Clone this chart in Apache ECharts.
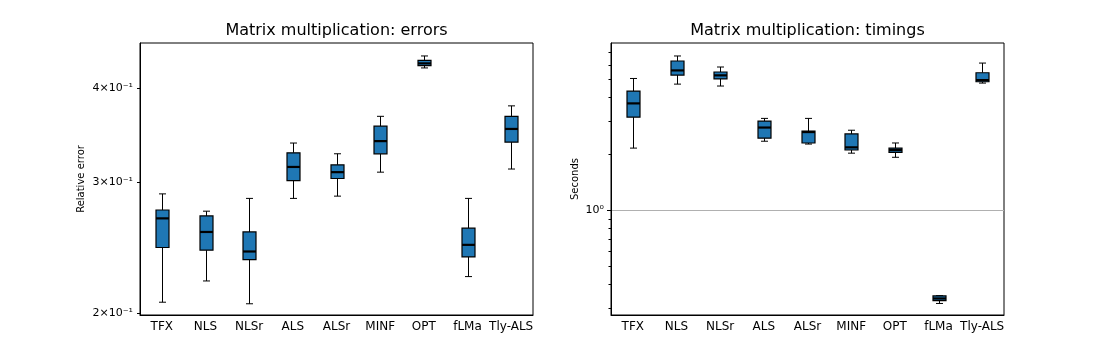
<!DOCTYPE html>
<html>
<head>
<meta charset="utf-8">
<script src="https://cdn.jsdelivr.net/npm/echarts@6/dist/echarts.min.js"></script>
<style>
html,body{margin:0;padding:0;background:#fff}
#main{width:1116px;height:360px}
</style>
</head>
<body>
<div id="main"></div>
<script>
var methods = ['TFX', 'NLS', 'NLSr', 'ALS', 'ALSr', 'MINF', 'OPT', 'fLMa', 'Tly-ALS'];

// relative error: whisker low, q1, median, q3, whisker high
var errLow  = [0.207, 0.221, 0.206, 0.285, 0.287, 0.309, 0.426, 0.224, 0.312];
var errQ1   = [0.245, 0.243, 0.236, 0.301, 0.303, 0.327, 0.429, 0.238, 0.339];
var errMed  = [0.268, 0.257, 0.242, 0.314, 0.309, 0.340, 0.432, 0.247, 0.353];
var errQ3   = [0.275, 0.270, 0.257, 0.328, 0.316, 0.356, 0.436, 0.260, 0.367];
var errHigh = [0.289, 0.274, 0.285, 0.338, 0.327, 0.367, 0.442, 0.285, 0.379];
var errTicks = [0.2, 0.3, 0.4];
var errTickLabels = ['2×10⁻¹', '3×10⁻¹', '4×10⁻¹'];

// timings in seconds
var timeLow  = [2.15, 4.73, 4.62, 2.34, 2.26, 2.02, 1.92, 0.317, 4.79];
var timeQ1   = [3.15, 5.29, 5.04, 2.43, 2.29, 2.10, 2.04, 0.328, 4.87];
var timeMed  = [3.73, 5.60, 5.27, 2.77, 2.62, 2.17, 2.10, 0.337, 4.97];
var timeQ3   = [4.34, 6.29, 5.49, 3.00, 2.65, 2.56, 2.15, 0.348, 5.44];
var timeHigh = [5.07, 6.69, 5.84, 3.10, 3.10, 2.68, 2.29, 0.349, 6.13];
var timeMajor = [1];
var timeMajorLabels = ['10⁰'];
var timeMinor = [0.3, 0.4, 0.5, 0.6, 0.7, 0.8, 0.9, 2, 3, 4, 5, 6, 7];

var FONT = 'DejaVu Sans';

function pickLabel(ticks, labels){
	return function(v){
		for(var i=0;i<ticks.length;i++){
			if(Math.abs(v - ticks[i]) < 1e-6*ticks[i] || Math.abs(v - Math.log10(ticks[i])) < 1e-6) return labels[i];
		}
		return '';
	};
}

/* one box: whiskers with short caps, filled box, thick median */
function boxItem(params, api){
	var i = api.value(0);
	var lo = api.coord([i, api.value(1)]);
	var q1 = api.coord([i, api.value(2)]);
	var md = api.coord([i, api.value(3)]);
	var q3 = api.coord([i, api.value(4)]);
	var hi = api.coord([i, api.value(5)]);
	var x = Math.round(lo[0]) + 0.5, hw = 6.5, cw = 3.5;
	var ln = {stroke:'#000', lineWidth:1};
	return {type:'group', children:[
		{type:'line', shape:{x1:x, y1:q1[1], x2:x, y2:lo[1]}, style:ln},
		{type:'line', shape:{x1:x, y1:q3[1], x2:x, y2:hi[1]}, style:ln},
		{type:'line', shape:{x1:x-cw, y1:lo[1], x2:x+cw, y2:lo[1]}, style:ln},
		{type:'line', shape:{x1:x-cw, y1:hi[1], x2:x+cw, y2:hi[1]}, style:ln},
		{type:'rect', shape:{x:x-hw, y:q3[1], width:2*hw, height:q1[1]-q3[1]}, style:{fill:'#1f77b4', stroke:'#000', lineWidth:1.2}},
		{type:'line', shape:{x1:x-hw, y1:md[1], x2:x+hw, y2:md[1]}, style:{stroke:'#000', lineWidth:2.2}}
	]};
}

function rows(lo, q1, md, q3, hi){
	return methods.map(function(m, i){ return [i, lo[i], q1[i], md[i], q3[i], hi[i]]; });
}

function catAxis(gi){
	return {
		type:'category', gridIndex:gi, data:methods, boundaryGap:true,
		axisLine:{lineStyle:{color:'#000', width:1}},
		axisTick:{alignWithLabel:true, length:4, lineStyle:{color:'#000'}},
		axisLabel:{fontSize:12, color:'#000', fontFamily:FONT, margin:6, interval:0},
		splitLine:{show:false}
	};
}

var titleStyle = {fontSize:16, fontWeight:'normal', color:'#000', fontFamily:FONT};

var chart = echarts.init(document.getElementById('main'));
chart.setOption({
	animation:false,
	backgroundColor:'#fff',
	title:[
		{text:'Matrix multiplication: errors', left:336.5, top:23, padding:0, textAlign:'center', textStyle:titleStyle},
		{text:'Matrix multiplication: timings', left:807.5, top:23, padding:0, textAlign:'center', textStyle:titleStyle}
	],
	grid:[
		{left:140, top:43, width:393, height:272, show:true, borderColor:'#000', borderWidth:1, backgroundColor:'transparent'},
		{left:611, top:43, width:393, height:272, show:true, borderColor:'#000', borderWidth:1, backgroundColor:'transparent'}
	],
	xAxis:[catAxis(0), catAxis(1)],
	yAxis:[
		{
			type:'log', logBase:10, gridIndex:0, min:0.199, max:0.46,
			name:'Relative error', nameLocation:'middle', nameRotate:90, nameGap:54,
			nameTextStyle:{fontSize:10, color:'#000', fontFamily:FONT},
			axisLine:{show:true, lineStyle:{color:'#000'}},
			axisTick:{show:true, length:3, customValues:errTicks, lineStyle:{color:'#000'}},
			axisLabel:{customValues:errTicks, formatter:pickLabel(errTicks, errTickLabels), fontSize:11, color:'#000', fontFamily:FONT, margin:7},
			splitLine:{show:false}, minorTick:{show:false}
		},
		{
			type:'log', logBase:10, gridIndex:1, min:0.275, max:7.85, position:'left',
			axisLine:{show:true, lineStyle:{color:'#000'}},
			axisTick:{show:true, length:2.5, customValues:timeMinor, lineStyle:{color:'#000'}},
			axisLabel:{show:false},
			splitLine:{show:false}
		},
		{
			type:'log', logBase:10, gridIndex:1, min:0.275, max:7.85, position:'left',
			name:'Seconds', nameLocation:'middle', nameRotate:90, nameGap:31,
			nameTextStyle:{fontSize:10, color:'#000', fontFamily:FONT},
			axisLine:{show:false},
			axisTick:{show:true, length:4, customValues:timeMajor, lineStyle:{color:'#000'}},
			axisLabel:{customValues:timeMajor, formatter:pickLabel(timeMajor, timeMajorLabels), fontSize:11, color:'#000', fontFamily:FONT, margin:7},
			splitLine:{show:true, lineStyle:{color:'#b0b0b0', width:1}}
		}
	],
	series:[
		{
			type:'custom', name:'errors', xAxisIndex:0, yAxisIndex:0,
			renderItem:boxItem, encode:{x:0, y:[1,2,3,4,5]},
			data:rows(errLow, errQ1, errMed, errQ3, errHigh)
		},
		{
			type:'custom', name:'timings', xAxisIndex:1, yAxisIndex:1,
			renderItem:boxItem, encode:{x:0, y:[1,2,3,4,5]},
			data:rows(timeLow, timeQ1, timeMed, timeQ3, timeHigh)
		}
	]
});
</script>
</body>
</html>
